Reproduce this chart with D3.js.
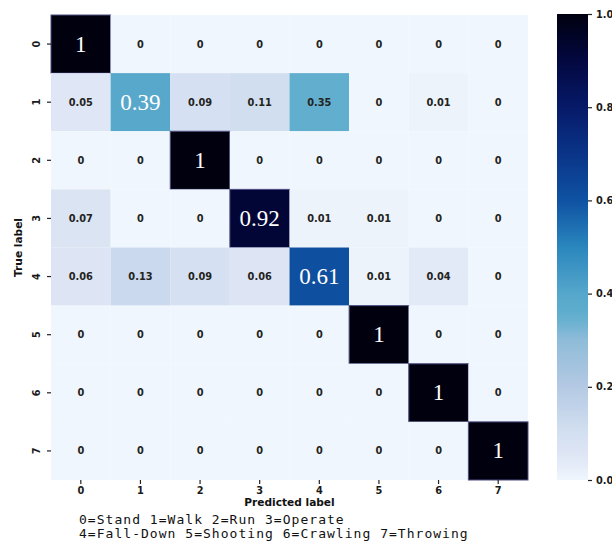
<!DOCTYPE html>
<html>
<head>
<meta charset="utf-8">
<script src="https://cdn.jsdelivr.net/npm/d3@7"></script>
<style>
  html, body { margin: 0; padding: 0; background: #ffffff; }
  svg { display: block; }
</style>
</head>
<body>
<svg id="chart" width="612" height="541"></svg>
<script>
// ---------- data ----------
const predictedLabels = ["0", "1", "2", "3", "4", "5", "6", "7"];
const trueLabels = ["0", "1", "2", "3", "4", "5", "6", "7"];
const row0 = [1, 0, 0, 0, 0, 0, 0, 0];
const row1 = [0.05, 0.39, 0.09, 0.11, 0.35, 0, 0.01, 0];
const row2 = [0, 0, 1, 0, 0, 0, 0, 0];
const row3 = [0.07, 0, 0, 0.92, 0.01, 0.01, 0, 0];
const row4 = [0.06, 0.13, 0.09, 0.06, 0.61, 0.01, 0.04, 0];
const row5 = [0, 0, 0, 0, 0, 1, 0, 0];
const row6 = [0, 0, 0, 0, 0, 0, 1, 0];
const row7 = [0, 0, 0, 0, 0, 0, 0, 1];
const colorbarTicks = [0, 0.2, 0.4, 0.6, 0.8, 1.0];
const legendLines = [
  "0=Stand 1=Walk 2=Run 3=Operate",
  "4=Fall-Down 5=Shooting 6=Crawling 7=Throwing"
];
const xTitle = "Predicted label";
const yTitle = "True label";

const rows = [row0, row1, row2, row3, row4, row5, row6, row7];
const cells = [];
rows.forEach((r, i) => r.forEach((v, j) => cells.push({ row: trueLabels[i], col: predictedLabels[j], v, diag: i === j })));

// ---------- colour map ----------
const cStops = [0, 0.05, 0.1, 0.2, 0.3, 0.35, 0.4, 0.5, 0.6, 0.7, 0.8, 0.9, 1.0];
const cCols  = ["#eff6fd", "#dfe6f5", "#d3e0f1", "#b4c9e3", "#8fbcd9", "#62aece", "#55a7cb",
                "#2a86bd", "#0f52a3", "#0a3488", "#061a68", "#030840", "#00000f"];
const color = d3.scaleLinear().domain(cStops).range(cCols).interpolate(d3.interpolateRgb).clamp(true);

// ---------- layout ----------
const svg = d3.select("#chart");
const gx0 = 51, gx1 = 528, gy0 = 15, gy1 = 480;
const x = d3.scaleBand().domain(predictedLabels).range([gx0, gx1]);
const y = d3.scaleBand().domain(trueLabels).range([gy0, gy1]);

svg.append("rect").attr("width", 612).attr("height", 541).attr("fill", "#ffffff");

// cells
svg.append("g").selectAll("rect").data(cells).join("rect")
  .attr("x", d => x(d.col))
  .attr("y", d => y(d.row))
  .attr("width", x.bandwidth())
  .attr("height", y.bandwidth())
  .attr("fill", d => color(d.v))
  .attr("stroke", d => d.v > 0.8 ? "#4d4d80" : "none")
  .attr("stroke-width", 1);

// annotations
const ann = svg.append("g");
ann.selectAll("text").data(cells).join("text")
  .attr("x", d => x(d.col) + x.bandwidth() / 2)
  .attr("y", d => y(d.row) + y.bandwidth() / 2)
  .attr("text-anchor", "middle")
  .attr("dominant-baseline", "central")
  .attr("font-family", d => d.diag ? "'Liberation Serif', 'Times New Roman', serif" : "'DejaVu Sans', sans-serif")
  .attr("font-weight", d => d.diag ? "normal" : "bold")
  .attr("font-size", d => d.diag ? "23px" : "9.8px")
  .attr("fill", d => d.diag ? "#ffffff" : "#23231c")
  .text(d => String(d.v));

// x axis
const xAxis = svg.append("g")
  .attr("transform", `translate(0,${gy1})`)
  .call(d3.axisBottom(x).tickSize(4).tickPadding(3));
xAxis.select(".domain").remove();
xAxis.selectAll(".tick line").attr("stroke", "#222").attr("stroke-width", 1.2);
xAxis.selectAll("text")
  .attr("font-family", "'DejaVu Sans', sans-serif")
  .attr("font-weight", "bold")
  .attr("font-size", "9.8px")
  .attr("fill", "#1a1a1a");

// y axis
const yAxis = svg.append("g")
  .attr("transform", `translate(${gx0},0)`)
  .call(d3.axisLeft(y).tickSize(4).tickPadding(0));
yAxis.select(".domain").remove();
yAxis.selectAll(".tick line").attr("stroke", "#222").attr("stroke-width", 1.2);
yAxis.selectAll("text")
  .attr("x", -15)
  .attr("dy", null)
  .attr("text-anchor", "middle")
  .attr("dominant-baseline", "central")
  .attr("transform", "rotate(-90,-15,0)")
  .attr("font-family", "'DejaVu Sans', sans-serif")
  .attr("font-weight", "bold")
  .attr("font-size", "9.8px")
  .attr("fill", "#1a1a1a");

// axis titles
svg.append("text")
  .attr("x", (gx0 + gx1) / 2).attr("y", 506)
  .attr("text-anchor", "middle")
  .attr("font-family", "'DejaVu Sans', sans-serif")
  .attr("font-weight", "bold").attr("font-size", "10.6px").attr("fill", "#111")
  .text(xTitle);
svg.append("text")
  .attr("transform", `translate(22,${(gy0 + gy1) / 2}) rotate(-90)`)
  .attr("text-anchor", "middle")
  .attr("font-family", "'DejaVu Sans', sans-serif")
  .attr("font-weight", "bold").attr("font-size", "10.6px").attr("fill", "#111")
  .text(yTitle);

// colour bar
const cbx = 557, cbw = 31, cby0 = 14, cby1 = 480;
const cbScale = d3.scaleLinear().domain([0, 1]).range([cby1, cby0]);
const defs = svg.append("defs");
const grad = defs.append("linearGradient").attr("id", "cbgrad")
  .attr("x1", 0).attr("y1", 1).attr("x2", 0).attr("y2", 0);
d3.range(0, 1.0001, 0.02).forEach(t => {
  grad.append("stop").attr("offset", t).attr("stop-color", color(t));
});
svg.append("rect")
  .attr("x", cbx).attr("y", cby0).attr("width", cbw).attr("height", cby1 - cby0)
  .attr("fill", "url(#cbgrad)");
const cbAxis = svg.append("g")
  .attr("transform", `translate(${cbx + cbw},0)`)
  .call(d3.axisRight(cbScale).tickValues(colorbarTicks).tickFormat(d3.format(".1f")).tickSize(4).tickPadding(4));
cbAxis.select(".domain").remove();
cbAxis.selectAll(".tick line").attr("stroke", "#222").attr("stroke-width", 1.2);
cbAxis.selectAll("text")
  .attr("font-family", "'DejaVu Sans', sans-serif")
  .attr("font-weight", "bold")
  .attr("font-size", "9.8px")
  .attr("fill", "#1a1a1a");

// legend text
svg.append("g").selectAll("text").data(legendLines).join("text")
  .attr("x", 79)
  .attr("y", (d, i) => 523.5 + i * 14.5)
  .attr("font-family", "'DejaVu Sans Mono', monospace")
  .attr("font-size", "13px")
  .attr("letter-spacing", "1.03px")
  .attr("fill", "#111")
  .text(d => d);
</script>
</body>
</html>
